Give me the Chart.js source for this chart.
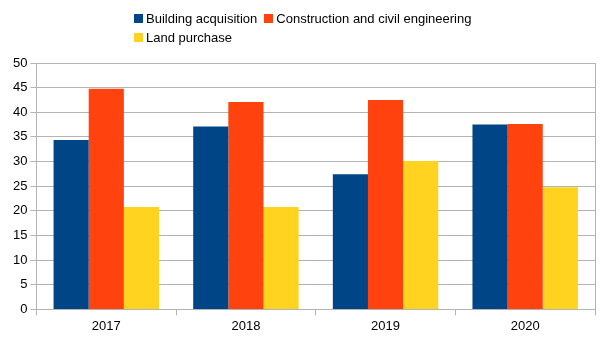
<!doctype html>
<html>
<head>
<title>Investment by category</title>
<script src="https://cdn.jsdelivr.net/npm/chart.js@4/dist/chart.umd.min.js"></script>
<style>
body { margin: 0; background: #fff; }
#wrap { position: relative; width: 605px; height: 340px; }
#legend {
	position: absolute; left: 134px; top: 9px; width: 420px;
	font: 13px "Liberation Sans", Arial, sans-serif; color: #000;
}
#legend span.item { display: inline-block; margin-right: 7px; line-height: 19px; white-space: nowrap; }
#legend i { display: inline-block; width: 9px; height: 9px; margin-right: 3px; vertical-align: 0px; }
</style>
</head>
<body>
<div id="wrap">
	<canvas id="canvas" width="605" height="340"></canvas>
	<div id="legend"></div>
</div>
<script>
const years = ['2017', '2018', '2019', '2020'];
const buildingAcquisition = [34.4, 37.1, 27.4, 37.5];
const constructionCivil = [44.8, 42.1, 42.5, 37.6];
const landPurchase = [20.8, 20.8, 30.1, 24.8];
const seriesNames = ['Building acquisition', 'Construction and civil engineering', 'Land purchase'];
const seriesColors = ['#004586', '#ff420e', '#ffd320'];
const yTicks = [0, 5, 10, 15, 20, 25, 30, 35, 40, 45, 50];

const values = [buildingAcquisition, constructionCivil, landPurchase];
const datasets = seriesNames.map((name, i) => ({
	label: name,
	data: values[i],
	backgroundColor: seriesColors[i],
	borderWidth: 0,
	categoryPercentage: 0.755,
	barPercentage: 1.0
}));

// legend as html so the second row lines up with the first
const legend = document.getElementById('legend');
seriesNames.forEach((name, i) => {
	const s = document.createElement('span');
	s.className = 'item';
	s.innerHTML = '<i style="background:' + seriesColors[i] + '"></i>' + name;
	legend.appendChild(s);
	if (i === 1) legend.appendChild(document.createElement('br'));
});

Chart.defaults.font.family = '"Liberation Sans", Arial, sans-serif';
Chart.defaults.font.size = 13;
Chart.defaults.color = '#000';

new Chart(document.getElementById('canvas'), {
	type: 'bar',
	data: { labels: years, datasets: datasets },
	options: {
		responsive: false,
		animation: false,
		layout: { padding: { top: 63, left: 10, right: 10, bottom: 3 } },
		plugins: { legend: { display: false }, tooltip: { enabled: false } },
		scales: {
			x: {
				offset: true,
				grid: { offset: true, drawOnChartArea: false, color: '#b3b3b3', tickLength: 6 },
				border: { color: '#b3b3b3' },
				ticks: { padding: 3 }
			},
			y: {
				min: 0, max: 50,
				afterBuildTicks: axis => { axis.ticks = yTicks.map(v => ({ value: v })); },
				grid: { color: '#b3b3b3', tickLength: 6 },
				border: { color: '#b3b3b3' },
				ticks: { padding: 3 }
			},
			yRight: {
				position: 'right',
				min: 0, max: 50,
				grid: { drawOnChartArea: false, drawTicks: false },
				border: { color: '#b3b3b3' },
				ticks: { display: false }
			}
		}
	}
});
</script>
</body>
</html>
